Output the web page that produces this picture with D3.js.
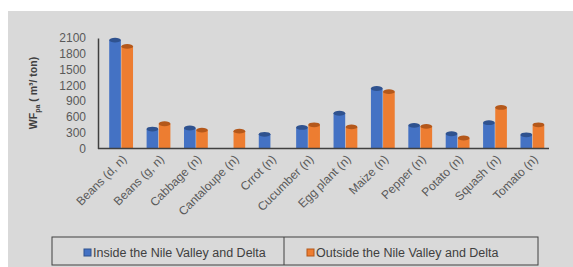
<!DOCTYPE html>
<html>
<head>
<meta charset="utf-8">
<script src="https://cdn.jsdelivr.net/npm/d3@7"></script>
<style>
  body { margin: 0; background: #fff; }
  text { font-family: "Liberation Sans", Arial, sans-serif; }
</style>
</head>
<body>
<svg id="chart" width="573" height="267"></svg>
<script>
// chart data
const crops = ["Beans (d, n)", "Beans (g, n)", "Cabbage (n)", "Cantaloupe (n)", "Crrot (n)",
  "Cucumber (n)", "Egg plant (n)", "Maize (n)", "Pepper (n)", "Potato (n)", "Squash (n)", "Tomato (n)"];
const inside = [2060, 370, 390, 0, 270, 400, 670, 1140, 440, 280, 490, 260];
const outside = [1940, 470, 350, 330, 0, 450, 410, 1080, 420, 200, 780, 450];
const seriesNames = ["Inside the Nile Valley and Delta", "Outside the Nile Valley and Delta"];
const yTicks = [0, 300, 600, 900, 1200, 1500, 1800, 2100];

const colors = [
  { body: "#4472c4", cap: "#2f528f" },
  { body: "#ed7d31", cap: "#b4581b" }
];

const svg = d3.select("#chart");

// gray chart area
svg.append("rect")
  .attr("x", 8).attr("y", 11)
  .attr("width", 565).attr("height", 256)
  .attr("fill", "#d9d9d9");

const x = d3.scaleBand()
  .domain(crops)
  .range([98, 556])
  .paddingInner(0.35)
  .paddingOuter(0.3);

const x1 = d3.scaleBand()
  .domain([0, 1])
  .range([0, x.bandwidth()]);

const y = d3.scaleLinear()
  .domain([0, 2100])
  .range([148.5, 38]);

// y axis
const yAxis = svg.append("g")
  .attr("transform", "translate(98,0)")
  .call(d3.axisLeft(y).tickValues(yTicks).tickFormat(d3.format("d")).tickSize(0).tickPadding(12));
yAxis.select(".domain").attr("stroke", "#404040").attr("stroke-width", 1.5);
yAxis.selectAll("text")
  .attr("fill", "#595959")
  .style("font-size", "12px");

// y label
const yl = svg.append("text")
  .attr("transform", "translate(37,93) rotate(-90)")
  .attr("text-anchor", "middle")
  .attr("fill", "#404040")
  .style("font-size", "10.5px")
  .style("font-weight", "bold");
yl.append("tspan").text("WF");
yl.append("tspan").attr("dy", 3).style("font-size", "7px").text("pa");
yl.append("tspan").attr("dy", -3).text(" ( m³/ ton)");

// bars as cylinders
const data = crops.map((c, i) => ({ crop: c, vals: [inside[i], outside[i]] }));
const groups = svg.append("g").selectAll("g")
  .data(data)
  .join("g")
  .attr("transform", d => `translate(${x(d.crop)},0)`);

groups.each(function(d) {
  const g = d3.select(this);
  d.vals.forEach((v, s) => {
    if (!v) return;
    const bx = x1(s), bw = x1.bandwidth() - 0.5;
    const top = y(v), base = y(0);
    g.append("rect")
      .attr("x", bx).attr("y", top)
      .attr("width", bw).attr("height", base - top)
      .attr("fill", colors[s].body);
    g.append("ellipse")
      .attr("cx", bx + bw / 2).attr("cy", top)
      .attr("rx", bw / 2).attr("ry", 2.4)
      .attr("fill", colors[s].cap);
  });
});

// baseline
svg.append("line")
  .attr("x1", 98).attr("x2", 549)
  .attr("y1", y(0)).attr("y2", y(0))
  .attr("stroke", "#404040").attr("stroke-width", 1.5);

// x labels
svg.append("g").selectAll("text")
  .data(crops)
  .join("text")
  .attr("transform", d => `translate(${x(d) + x.bandwidth() / 2 + 6},160) rotate(-45)`)
  .attr("text-anchor", "end")
  .attr("fill", "#595959")
  .style("font-size", "12px")
  .text(d => d);

// legend
const legend = svg.append("g");
legend.append("rect")
  .attr("x", 52).attr("y", 237)
  .attr("width", 486).attr("height", 28)
  .attr("fill", "none")
  .attr("stroke", "#404040");
legend.append("line")
  .attr("x1", 284).attr("x2", 284)
  .attr("y1", 237).attr("y2", 265)
  .attr("stroke", "#404040");

const legendX = [84, 307];
seriesNames.forEach((name, i) => {
  legend.append("rect")
    .attr("x", legendX[i]).attr("y", 249)
    .attr("width", 7).attr("height", 7)
    .attr("fill", colors[i].body)
    .attr("stroke", colors[i].cap);
  legend.append("text")
    .attr("x", legendX[i] + 9).attr("y", 256.5)
    .attr("fill", "#404040")
    .style("font-size", "12.5px")
    .text(name);
});
</script>
</body>
</html>
